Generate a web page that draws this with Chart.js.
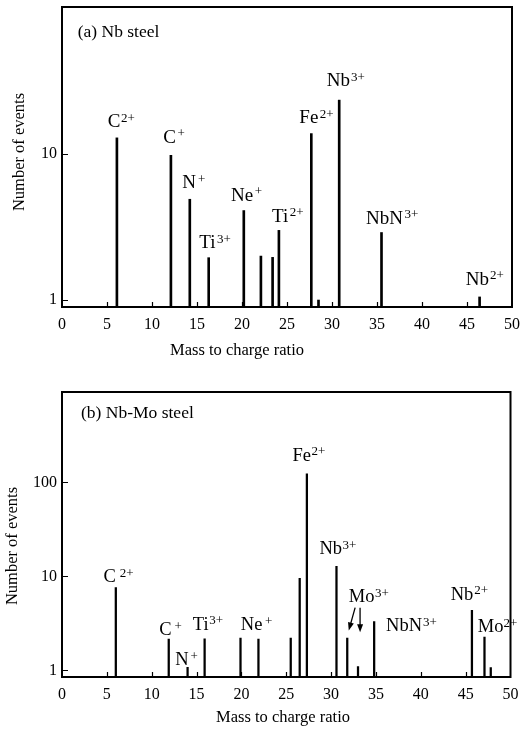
<!DOCTYPE html>
<html><head><meta charset="utf-8">
<script src="https://cdn.jsdelivr.net/npm/chart.js@4.4.0/dist/chart.umd.min.js"></script>
<style>
html,body{margin:0;padding:0;background:#fff;}
#wrap{position:relative;width:530px;height:730px;background:#fff;}
canvas{position:absolute;left:0;}
</style></head><body>
<div id="wrap">
<canvas id="c1" width="530" height="365" style="top:0px"></canvas>
<canvas id="c2" width="530" height="365" style="top:365px"></canvas>
</div>
<script>
// ---------- Panel (a) Nb steel ----------
const massA   = [6.1, 12.1, 14.2, 16.3, 20.2, 22.1, 23.4, 24.1, 27.7, 28.5, 30.8, 35.5, 46.4];
const countsA = [12.9, 9.8, 4.9, 1.95, 4.1, 2.0, 1.96, 3.0, 13.8, 1.0, 23.4, 2.9, 1.05];
const ionsA    = ['C', 'C', 'N', 'Ti', 'Ne', 'Ti', 'Fe', 'Nb', 'NbN', 'Nb'];
const chargesA = ['2+', '+', '+', '3+', '+', '2+', '2+', '3+', '3+', '2+'];
const yTicksA  = [1, 10];
const xTicks   = [0, 5, 10, 15, 20, 25, 30, 35, 40, 45, 50];

// ---------- Panel (b) Nb-Mo steel ----------
const massB   = [6.0, 11.9, 14.0, 15.9, 19.9, 21.9, 25.5, 26.5, 27.3, 30.6, 31.8, 33.0, 34.8, 45.7, 47.1, 47.8];
const countsB = [7.6, 2.15, 1.08, 2.17, 2.2, 2.15, 2.2, 9.5, 123, 12.8, 2.2, 1.1, 3.3, 4.35, 2.26, 1.07];
const ionsB    = ['C', 'C', 'N', 'Ti', 'Ne', 'Fe', 'Nb', 'Mo', 'NbN', 'Nb', 'Mo'];
const chargesB = ['2+', '+', '+', '3+', '+', '2+', '3+', '3+', '3+', '2+', '2+'];
const yTicksB  = [1, 10, 100];

// ---------- label placement (data coordinates: x, baseline y, superscript gap) ----------
const labelPosA = [[5.08,15.3,0.5],[11.26,11.9,1.5],[13.37,5.85,2],[15.26,2.27,1.5],[18.78,4.79,1.5],
                   [23.33,3.44,1.5],[26.37,16.3,1.5],[29.41,29.2,1],[33.78,3.32,1.5],[44.86,1.27,1]];
const labelPosB = [[4.63,8.7,4],[10.84,2.36,3],[12.62,1.13,2],[14.59,2.71,0.5],[19.94,2.66,2.5],
                   [25.69,168.6,0.5],[28.7,17.1,0.5],[31.97,5.33,0.5],[36.13,2.62,1],[43.34,5.65,1],[46.35,2.55,0]];
const arrowsB = [[[32.68,4.64],[31.97,2.66]], [[33.23,4.64],[33.23,2.55]]];

const serif = '"Liberation Serif", "Times New Roman", serif';

function makeAnnot(cfg){
  return {
    id: 'annot',
    afterDraw(chart){
      const {ctx, chartArea:a, scales:{x, y}} = chart;
      ctx.save();
      ctx.strokeStyle = '#000'; ctx.fillStyle = '#000';
      // frame
      ctx.lineWidth = 2;
      ctx.strokeRect(a.left, a.top, a.right - a.left, a.bottom - a.top);
      // inward ticks
      ctx.lineWidth = 1.2;
      ctx.beginPath();
      x.ticks.forEach(t => {
        if (t.value <= x.min || t.value >= x.max) return;
        const px = Math.round(x.getPixelForValue(t.value)) + 0.5;
        ctx.moveTo(px, a.bottom); ctx.lineTo(px, a.bottom - 5);
      });
      y.ticks.forEach(t => {
        const py = Math.round(y.getPixelForValue(t.value)) + 0.5;
        ctx.moveTo(a.left, py); ctx.lineTo(a.left + 6, py);
      });
      ctx.stroke();
      // ion labels
      ctx.textAlign = 'left'; ctx.textBaseline = 'alphabetic';
      cfg.ions.forEach((ion, i) => {
        const p = cfg.labelPos[i];
        const px = x.getPixelForValue(p[0]), py = y.getPixelForValue(p[1]);
        ctx.font = cfg.ionSize + 'px ' + serif;
        ctx.fillText(ion, px, py);
        const w = ctx.measureText(ion).width;
        ctx.font = cfg.supSize + 'px ' + serif;
        ctx.fillText(cfg.charges[i], px + w + p[2], py - cfg.supRise);
      });
      // arrows
      (cfg.arrows || []).forEach(ar => {
        const x0 = x.getPixelForValue(ar[0][0]), y0 = y.getPixelForValue(ar[0][1]);
        const x1 = x.getPixelForValue(ar[1][0]), y1 = y.getPixelForValue(ar[1][1]);
        const ang = Math.atan2(y1 - y0, x1 - x0);
        ctx.lineWidth = 1.3;
        ctx.beginPath(); ctx.moveTo(x0, y0);
        ctx.lineTo(x1 - 5 * Math.cos(ang), y1 - 5 * Math.sin(ang)); ctx.stroke();
        ctx.beginPath();
        ctx.moveTo(x1, y1);
        ctx.lineTo(x1 - 8 * Math.cos(ang) + 3 * Math.sin(ang), y1 - 8 * Math.sin(ang) - 3 * Math.cos(ang));
        ctx.lineTo(x1 - 8 * Math.cos(ang) - 3 * Math.sin(ang), y1 - 8 * Math.sin(ang) + 3 * Math.cos(ang));
        ctx.closePath(); ctx.fill();
      });
      // panel title
      ctx.font = '17.5px ' + serif;
      ctx.fillText(cfg.panel, x.getPixelForValue(cfg.panelPos[0]), y.getPixelForValue(cfg.panelPos[1]));
      // axis titles
      ctx.font = '16.5px ' + serif;
      ctx.textAlign = 'center'; ctx.textBaseline = 'middle';
      ctx.fillText('Mass to charge ratio', cfg.xTitle[0], cfg.xTitle[1]);
      ctx.save();
      ctx.translate(cfg.yTitle[0], cfg.yTitle[1]);
      ctx.rotate(-Math.PI / 2);
      ctx.fillText('Number of events', 0, 0);
      ctx.restore();
      ctx.restore();
    }
  };
}

function makeChart(id, cfg){
  const tickFont = {family: serif, size: 16};
  return new Chart(document.getElementById(id), {
    type: 'bar',
    data: {datasets: [{
      data: cfg.mass.map((m, i) => ({x: m, y: cfg.counts[i]})),
      backgroundColor: '#000', borderWidth: 0, barThickness: cfg.barW, grouped: false
    }]},
    options: {
      responsive: false, animation: false, devicePixelRatio: 1,
      layout: {padding: {left: 0, right: cfg.padR, top: cfg.padT, bottom: 0}},
      plugins: {legend: {display: false}, tooltip: {enabled: false}},
      scales: {
        x: {type: 'linear', min: 0, max: 50, offset: false,
            grid: {display: false, drawTicks: false}, border: {display: false},
            ticks: {autoSkip: false, maxRotation: 0, padding: 8, color: '#000', font: tickFont,
                    callback: v => String(v)},
            afterBuildTicks: s => { s.ticks = xTicks.map(v => ({value: v})); },
            afterFit: s => { s.height = cfg.xH; s.paddingLeft = 0; s.paddingRight = 0; }},
        y: {type: 'logarithmic', min: cfg.yMin, max: cfg.yMax,
            grid: {display: false, drawTicks: false}, border: {display: false},
            ticks: {padding: 5, color: '#000', font: tickFont, callback: v => String(v)},
            afterBuildTicks: s => { s.ticks = cfg.yTicks.map(v => ({value: v})); },
            afterFit: s => { s.width = 62; s.paddingTop = 0; s.paddingBottom = 0; }}
      }
    },
    plugins: [makeAnnot(cfg)]
  });
}

makeChart('c1', {
  mass: massA, counts: countsA, ions: ionsA, charges: chargesA, labelPos: labelPosA,
  yTicks: yTicksA, yMin: 0.896, yMax: 101.6, barW: 2,
  padR: 18, padT: 7, xH: 58, ionSize: 19, supSize: 13, supRise: 5.5,
  panel: '(a) Nb steel', panelPos: [1.75, 63.3],
  xTitle: [237, 351], yTitle: [20, 152]
});
makeChart('c2', {
  mass: massB, counts: countsB, ions: ionsB, charges: chargesB, labelPos: labelPosB, arrows: arrowsB,
  yTicks: yTicksB, yMin: 0.85, yMax: 913, barW: 1.6,
  padR: 19.5, padT: 27, xH: 53, ionSize: 18.5, supSize: 13, supRise: 5.5,
  panel: '(b) Nb-Mo steel', panelPos: [2.12, 479],
  xTitle: [283, 353], yTitle: [13, 181]
});
</script>
</body></html>
